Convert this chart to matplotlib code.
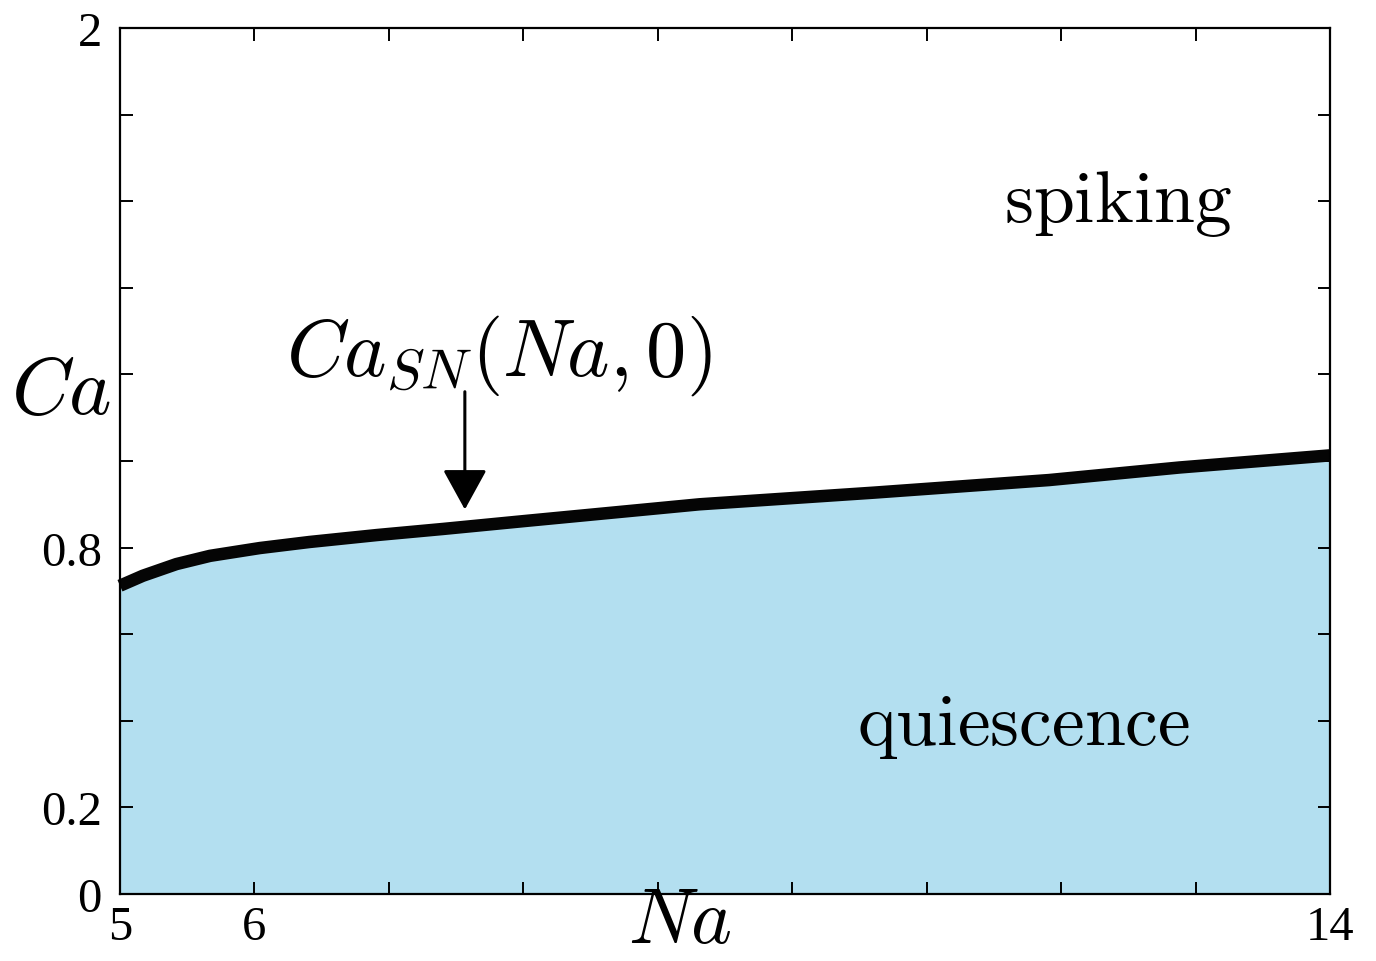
import matplotlib
matplotlib.use("Agg")
import matplotlib.pyplot as plt

plt.rcParams['mathtext.fontset'] = 'cm'

# saddle-node curve
na = [5.0, 5.17, 5.42, 5.67, 6.04, 6.41, 6.91, 7.40, 8.03, 9.31, 10.61,
      11.91, 12.88, 14.0]
ca_sn = [0.712, 0.735, 0.762, 0.781, 0.799, 0.813, 0.829, 0.843, 0.862,
         0.900, 0.927, 0.956, 0.985, 1.013]

xticks = [5, 6, 7, 8, 9, 10, 11, 12, 13, 14]
xticklabels = ['5', '6', '', '', '', '', '', '', '', '14']
yticks = [0, 0.2, 0.4, 0.6, 0.8, 1.0, 1.2, 1.4, 1.6, 1.8, 2.0]
yticklabels = ['0', '0.2', '', '', '0.8', '', '', '', '', '', '2']

arrow_tip = (7.565, 0.888)
arrow_tail = (7.565, 1.16)

fig = plt.figure(figsize=(13.76, 9.62), dpi=100)
ax = fig.add_axes([0.0872, 0.0696, 0.8794, 0.9003])

ax.fill_between(na, 0, ca_sn, color='#b3dff0', lw=0)
ax.plot(na, ca_sn, color='#050505', lw=9, solid_capstyle='butt',
        solid_joinstyle='round', clip_on=False)

ax.set_xlim(5, 14)
ax.set_ylim(0, 2)
ax.set_xticks(xticks)
ax.set_xticklabels(xticklabels)
ax.set_yticks(yticks)
ax.set_yticklabels(yticklabels)
ax.tick_params(direction='in', length=9, width=1.4, top=True, right=True,
               labelsize=35, labelfontfamily='Liberation Serif')
ax.tick_params(axis='x', pad=8)
ax.tick_params(axis='y', pad=13)
for sp in ax.spines.values():
    sp.set_linewidth(1.6)

fig.text(0.044, 0.593, r'$Ca$', fontsize=58, ha='center', va='center')
fig.text(0.494, 0.003, r'$Na$', fontsize=56, ha='center', va='bottom')

ax.annotate('', xy=arrow_tip, xytext=arrow_tail,
            arrowprops=dict(arrowstyle='-|>,head_width=0.55,head_length=1.0',
                            color='black', lw=2.2, shrinkA=0, shrinkB=0,
                            mutation_scale=25))
ax.text(7.82, 1.2, r'$Ca_{SN}(Na,0)$', fontsize=58, ha='center', va='baseline')

ax.text(12.42, 1.554, r'$\mathrm{spiking}$', fontsize=53, ha='center', va='baseline')
ax.text(11.72, 0.346, r'$\mathrm{quiescence}$', fontsize=53, ha='center', va='baseline')

fig.savefig('out.png', dpi=100)
